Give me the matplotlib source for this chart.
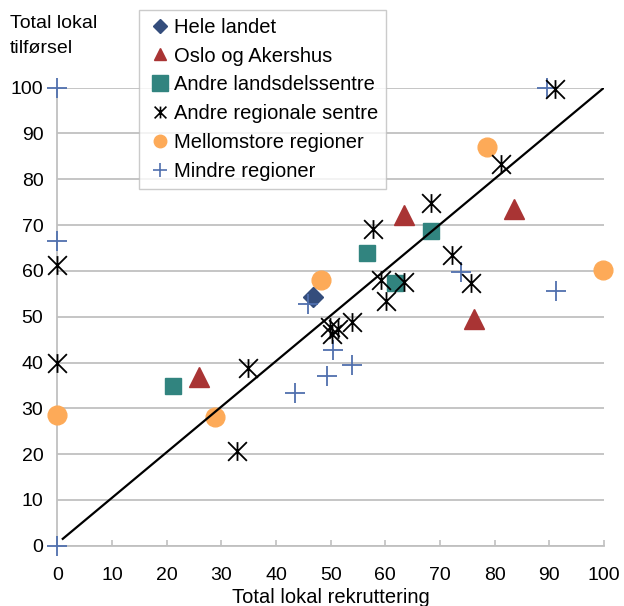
import matplotlib
matplotlib.use("Agg")
import matplotlib.pyplot as plt
from matplotlib.path import Path
from matplotlib.lines import Line2D

# ---- data ----
hele_x = [46.7]
hele_y = [54.3]
oslo_x = [25.9, 63.5, 83.6, 76.3]
oslo_y = [36.8, 72.2, 73.6, 49.6]
lds_x = [21.2, 56.7, 68.3, 61.7]
lds_y = [34.8, 64.0, 68.8, 57.4]
ars_x = [0, 0, 34.8, 32.9, 49.8, 50.2, 51.4, 53.9, 57.7, 68.4, 72.2, 75.7, 59.2, 63.5, 60.1, 81.2, 91.1]
ars_y = [61.2, 39.8, 38.7, 20.7, 47.8, 46.3, 47.4, 48.8, 69.2, 74.8, 63.4, 57.4, 58.1, 57.6, 53.4, 83.4, 99.7]
mell_x = [0, 28.9, 48.2, 78.6, 99.9]
mell_y = [28.6, 28.1, 58.1, 87.0, 60.3]
mindre_x = [0, 0, 0, 45.9, 50.4, 53.9, 49.4, 43.5, 73.9, 91.2, 89.6]
mindre_y = [100, 66.6, 0, 52.7, 42.8, 39.4, 37.0, 33.4, 59.7, 55.6, 99.9]
line_x = [1, 100]
line_y = [1.5, 100]

labels = ["Hele landet", "Oslo og Akershus", "Andre landsdelssentre",
          "Andre regionale sentre", "Mellomstore regioner", "Mindre regioner"]
xticks = [0, 10, 20, 30, 40, 50, 60, 70, 80, 90, 100]
yticks = [0, 10, 20, 30, 40, 50, 60, 70, 80, 90, 100]

plt.rcParams['font.family'] = ['Liberation Sans', 'DejaVu Sans']

C_HELE = "#344D7C"
C_OSLO = "#A93434"
C_LDS = "#31847F"
C_MELL = "#FDAA58"
C_MIN = "#5070AE"
GRID = "#C0C0C0"

star = Path([(0, -1), (0, 1), (-1, -1), (1, 1), (-1, 1), (1, -1)],
            [Path.MOVETO, Path.LINETO, Path.MOVETO, Path.LINETO, Path.MOVETO, Path.LINETO])

fig = plt.figure(figsize=(6.24, 6.06), dpi=100)
ax = fig.add_axes([57.3 / 624, 1 - 545.7 / 606, (604 - 57.3) / 624, (545.7 - 87.7) / 606])

ax.plot(mell_x, mell_y, ls='none', marker='o', ms=13.5, mfc=C_MELL, mec=C_MELL, zorder=3, clip_on=False)
ax.plot(oslo_x, oslo_y, ls='none', marker='^', ms=14, mfc=C_OSLO, mec=C_OSLO, zorder=3, clip_on=False)
ax.plot(lds_x, lds_y, ls='none', marker='s', ms=12, mfc=C_LDS, mec=C_LDS, zorder=3, clip_on=False)
ax.plot(hele_x, hele_y, ls='none', marker='D', ms=10.5, mfc=C_HELE, mec=C_HELE, zorder=4, clip_on=False)
ax.plot(mindre_x, mindre_y, ls='none', marker='+', ms=14.5, mew=1.3, color=C_MIN, zorder=4, clip_on=False)
ax.plot(ars_x, ars_y, ls='none', marker=star, ms=13.5, mew=1.3, color='black', zorder=5, clip_on=False)
ax.plot(line_x, line_y, color='black', lw=1.6, zorder=6)

ax.set_xlim(0, 100)
ax.set_ylim(0, 100)
ax.set_xticks(xticks)
ax.set_yticks(yticks)
ax.set_xticklabels([str(v) for v in xticks], fontsize=14)
ax.set_yticklabels([str(v) for v in yticks], fontsize=14)
ax.tick_params(axis='x', direction='in', length=4, width=1.2, color=GRID, pad=15)
ax.tick_params(axis='y', length=0, pad=10)
ax.yaxis.grid(True, color=GRID, lw=1.3)
ax.set_axisbelow(True)
for s in ['top', 'right']:
    ax.spines[s].set_visible(False)
for s in ['left', 'bottom']:
    ax.spines[s].set_color(GRID)
    ax.spines[s].set_linewidth(1.3)

fig.text(10 / 624, 1 - 36 / 606, "Total lokal\ntilførsel", fontsize=14, ha='left', va='center', linespacing=1.6)
fig.text((57.3 + 604) / 2 / 624, 3 / 606, "Total lokal rekruttering", fontsize=14.5, ha='center', va='baseline')

handles = [
    Line2D([], [], ls='none', marker='D', ms=7, mfc=C_HELE, mec=C_HELE),
    Line2D([], [], ls='none', marker='^', ms=9, mfc=C_OSLO, mec=C_OSLO),
    Line2D([], [], ls='none', marker='s', ms=11, mfc=C_LDS, mec=C_LDS),
    Line2D([], [], ls='none', marker=star, ms=8.5, mew=1.2, color='black'),
    Line2D([], [], ls='none', marker='o', ms=9, mfc=C_MELL, mec=C_MELL),
    Line2D([], [], ls='none', marker='+', ms=9.5, mew=1.2, color=C_MIN),
]
leg = fig.legend(handles, labels, loc='upper left', bbox_to_anchor=(139 / 624, 1 - 10 / 606),
                 bbox_transform=fig.transFigure, fontsize=14.5, frameon=True, fancybox=False,
                 edgecolor='#BFBFBF', borderpad=0.38, labelspacing=0.49, handlelength=1.3,
                 handletextpad=0.05, borderaxespad=0)
leg.get_frame().set_linewidth(1.0)

fig.savefig("out.png", dpi=100)
